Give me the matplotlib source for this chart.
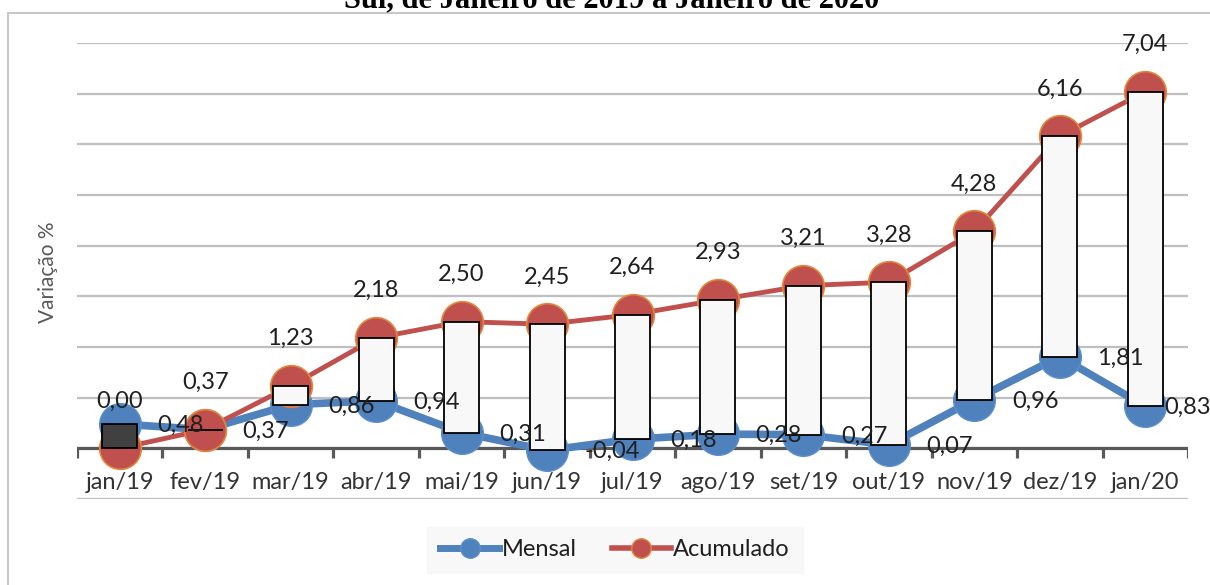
import numpy as np
import matplotlib
matplotlib.use("Agg")
import matplotlib.pyplot as plt
from matplotlib.patches import Rectangle
from matplotlib.lines import Line2D

plt.rcParams['font.family'] = ['Lato', 'DejaVu Sans']

# data
meses = ['jan/19', 'fev/19', 'mar/19', 'abr/19', 'mai/19', 'jun/19', 'jul/19',
         'ago/19', 'set/19', 'out/19', 'nov/19', 'dez/19', 'jan/20']
mensal = [0.48, 0.37, 0.86, 0.94, 0.31, -0.04, 0.18, 0.28, 0.27, 0.07, 0.96, 1.81, 0.83]
acumulado = [0.00, 0.37, 1.23, 2.18, 2.50, 2.45, 2.64, 2.93, 3.21, 3.28, 4.28, 6.16, 7.04]
titulo = 'Sul, de Janeiro de 2019 a Janeiro de 2020'

azul = '#4F81BD'
vermelho = '#C0504D'
texto = '#1f1f1f'

def fmt(v):
    return ('%.2f' % v).replace('.', ',')

fig = plt.figure(figsize=(12.1, 5.85), dpi=100)
W, H = 1210, 585
ax = fig.add_axes([77 / W, 1 - 499 / H, (1188 - 77) / W, (499 - 43) / H])

x = np.arange(len(meses))
ax.set_xlim(-0.5, len(meses) - 0.5)
ax.set_ylim(-1, 8)

# gridlines
ax.set_yticks(range(-1, 9))
ax.yaxis.grid(True, color='#BFBFBF', linewidth=1.6)
ax.set_axisbelow(True)
ax.tick_params(axis='y', left=False, labelleft=False)
for s in ['top', 'right', 'left', 'bottom']:
    ax.spines[s].set_visible(False)

# category axis at zero
ax.axhline(0, color='#595959', linewidth=2.3, zorder=2)
for t in np.arange(-0.5, len(meses), 1.0):
    ax.plot([t, t], [0, -0.2], color='#595959', linewidth=2.3, zorder=2,
            solid_capstyle='butt')
ax.set_xticks([])
for i, m in enumerate(meses):
    ax.text(i, -0.68, m, ha='center', va='center', fontsize=17, color='#333333')

# lines
ax.plot(x, mensal, color=azul, linewidth=5.5, marker='o', markersize=30,
        markerfacecolor=azul, markeredgecolor='#5B8FCB', markeredgewidth=1, zorder=3)
ax.plot(x, acumulado, color=vermelho, linewidth=3.5, marker='o', markersize=30,
        markerfacecolor=vermelho, markeredgecolor='#E2863A', markeredgewidth=1.2, zorder=3)

# up/down bars
for i in range(len(meses)):
    lo = min(mensal[i], acumulado[i])
    hi = max(mensal[i], acumulado[i])
    cor = '#404040' if acumulado[i] < mensal[i] else '#F8F8F8'
    ax.add_patch(Rectangle((i - 0.205, lo), 0.41, hi - lo, facecolor=cor,
                           edgecolor='black', linewidth=1.3, zorder=4))

# data labels
for i in range(len(meses)):
    ax.annotate(fmt(acumulado[i]), (x[i], acumulado[i]), xytext=(0, 34),
                textcoords='offset points', ha='center', va='center',
                fontsize=17, color=texto, zorder=6, annotation_clip=False)
    dx = 27 if i < len(meses) - 1 else 14
    ax.annotate(fmt(mensal[i]), (x[i], mensal[i]), xytext=(dx, -1),
                textcoords='offset points', ha='left', va='center',
                fontsize=17, color=texto, zorder=6, annotation_clip=False)

ax.set_ylabel('Variação %', fontsize=15, color='#595959')
ax.yaxis.set_label_coords((58 - 77) / (1188 - 77), (499 - 272) / (499 - 43))

# legend
handles = [Line2D([], [], color=azul, linewidth=5, marker='o', markersize=14,
                  markeredgecolor='#5B8FCB'),
           Line2D([], [], color=vermelho, linewidth=4, marker='o', markersize=14,
                  markeredgecolor='#E2863A')]
leg = fig.legend(handles, ['Mensal', 'Acumulado'], loc='center',
                 bbox_to_anchor=(615 / W, 1 - 550 / H), ncol=2, frameon=True,
                 fontsize=17, handlelength=2.5, handletextpad=0.1,
                 columnspacing=1.5, borderpad=0.55, fancybox=False)
leg.get_frame().set_facecolor('#F7F7F7')
leg.get_frame().set_edgecolor('#F7F7F7')
for t in leg.get_texts():
    t.set_color(texto)

# chart frame and clipped title
fig.add_artist(Rectangle((8 / W, -0.1), 1.2, 1 - 13 / H + 0.1, transform=fig.transFigure,
                         fill=False, edgecolor='#C8C8C8', linewidth=1.5))
fig.text(612 / W, 1 - 7 / H, titulo, ha='center', va='baseline',
         fontsize=22, fontweight='bold', family='Liberation Serif', color='black')

fig.savefig('out.png', dpi=100)
